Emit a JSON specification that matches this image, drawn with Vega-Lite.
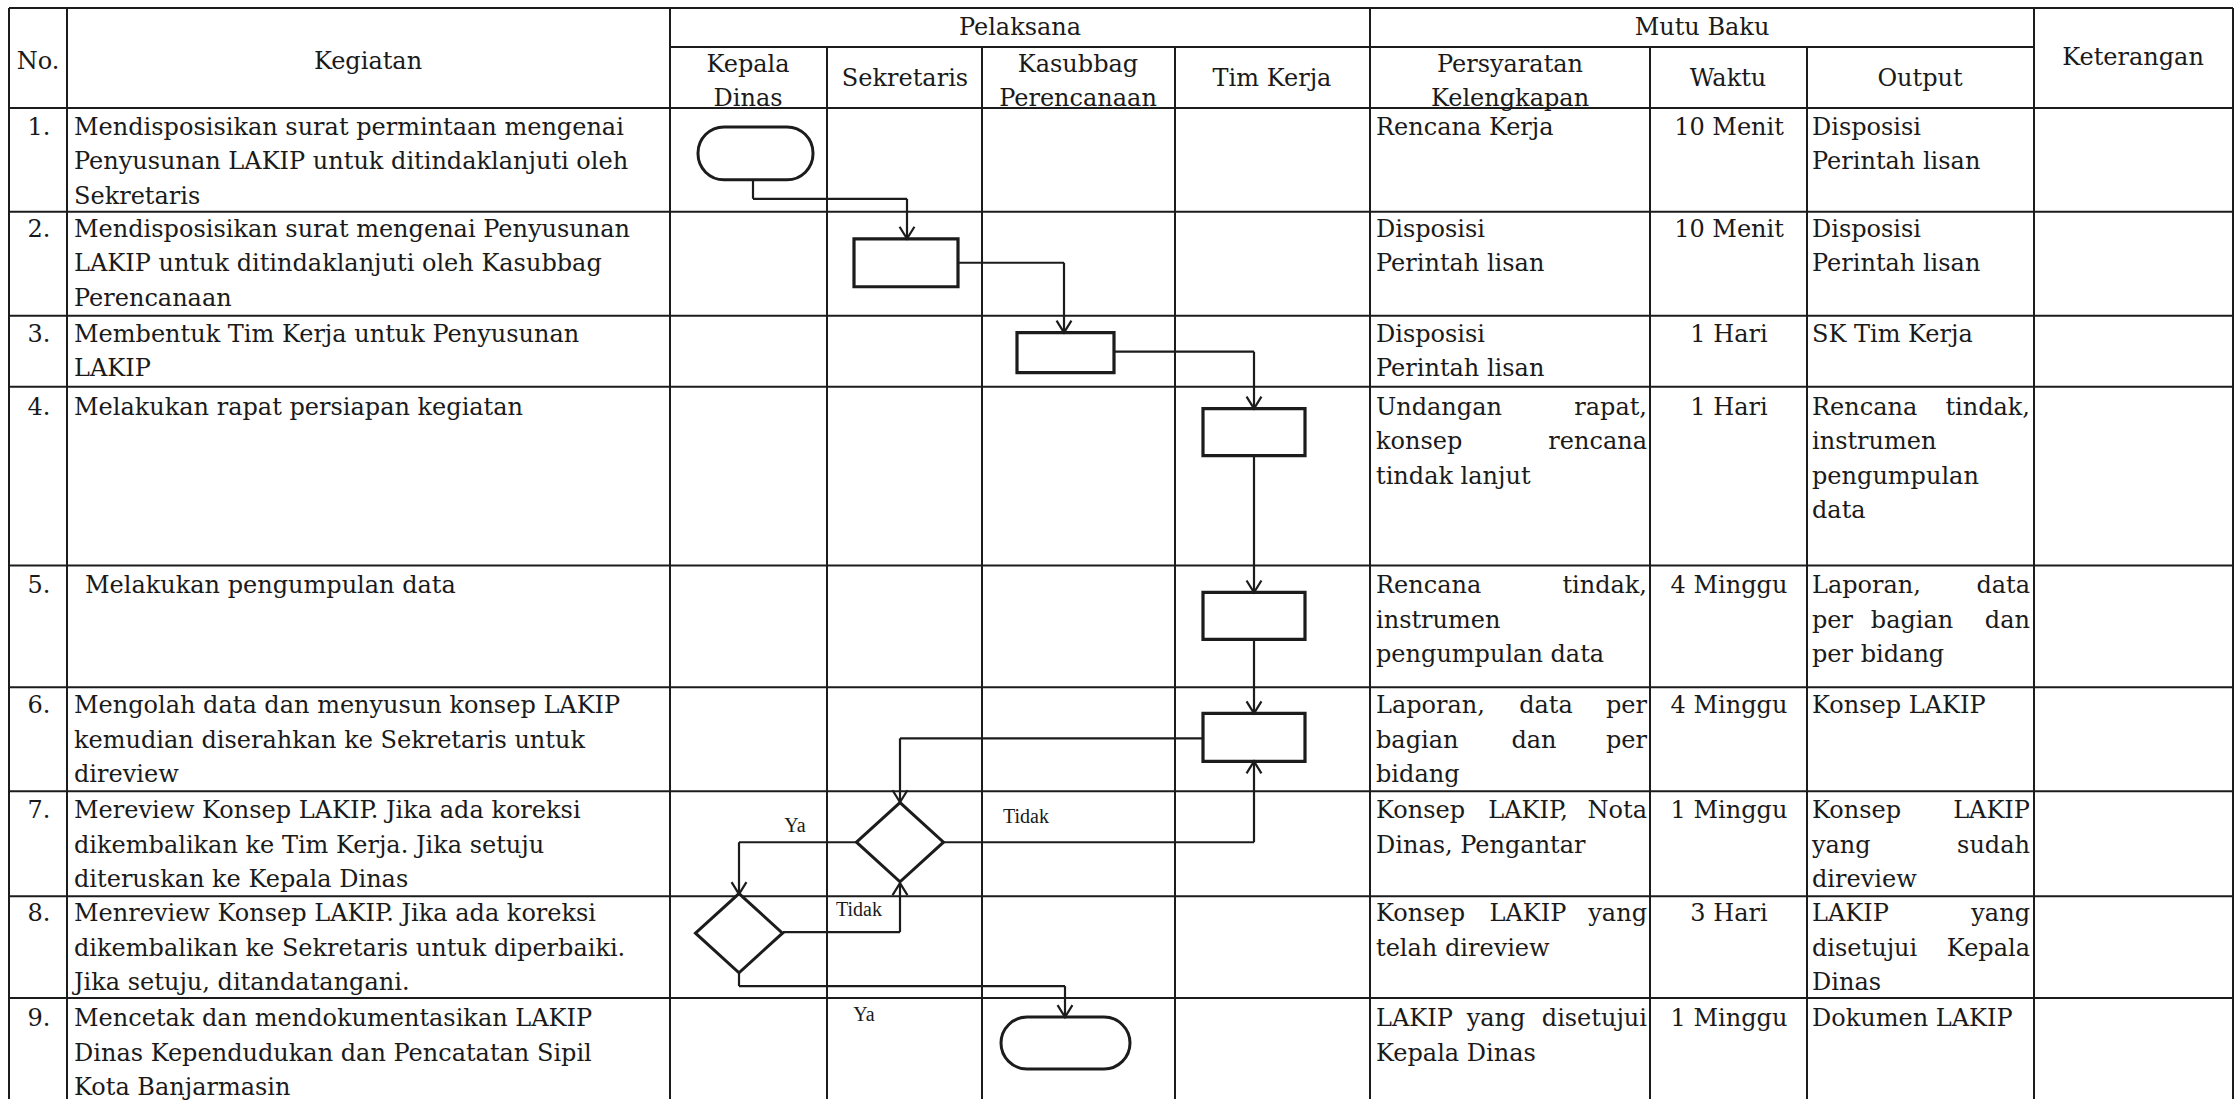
{
  "$schema": "https://vega.github.io/schema/vega-lite/v6.json",
  "width": 2240,
  "height": 1100,
  "autosize": {"type": "fit", "contains": "padding"},
  "padding": 0,
  "background": "white",
  "config": {"view": {"stroke": null}},
  "datasets": {
    "grid": [
      {"x": 9, "y": 8, "x2": 2233, "y2": 8},
      {"x": 670, "y": 47, "x2": 2034, "y2": 47},
      {"x": 9, "y": 108, "x2": 2233, "y2": 108},
      {"x": 9, "y": 212, "x2": 2233, "y2": 212},
      {"x": 9, "y": 316, "x2": 2233, "y2": 316},
      {"x": 9, "y": 387, "x2": 2233, "y2": 387},
      {"x": 9, "y": 566, "x2": 2233, "y2": 566},
      {"x": 9, "y": 688, "x2": 2233, "y2": 688},
      {"x": 9, "y": 792, "x2": 2233, "y2": 792},
      {"x": 9, "y": 897, "x2": 2233, "y2": 897},
      {"x": 9, "y": 999, "x2": 2233, "y2": 999},
      {"x": 9, "y": 8, "x2": 9, "y2": 1100},
      {"x": 67, "y": 8, "x2": 67, "y2": 1100},
      {"x": 670, "y": 8, "x2": 670, "y2": 1100},
      {"x": 827, "y": 47, "x2": 827, "y2": 1100},
      {"x": 982, "y": 47, "x2": 982, "y2": 1100},
      {"x": 1175, "y": 47, "x2": 1175, "y2": 1100},
      {"x": 1370, "y": 8, "x2": 1370, "y2": 1100},
      {"x": 1650, "y": 47, "x2": 1650, "y2": 1100},
      {"x": 1807, "y": 47, "x2": 1807, "y2": 1100},
      {"x": 2034, "y": 8, "x2": 2034, "y2": 1100},
      {"x": 2233, "y": 8, "x2": 2233, "y2": 1100}
    ],
    "conn": [
      {"x": 753, "y": 180, "x2": 753, "y2": 199},
      {"x": 753, "y": 199, "x2": 907, "y2": 199},
      {"x": 907, "y": 199, "x2": 907, "y2": 239},
      {"x": 958, "y": 263, "x2": 1064, "y2": 263},
      {"x": 1064, "y": 263, "x2": 1064, "y2": 333},
      {"x": 1114, "y": 352, "x2": 1254, "y2": 352},
      {"x": 1254, "y": 352, "x2": 1254, "y2": 409},
      {"x": 1254, "y": 456, "x2": 1254, "y2": 593},
      {"x": 1254, "y": 640, "x2": 1254, "y2": 714},
      {"x": 1203, "y": 739, "x2": 900, "y2": 739},
      {"x": 900, "y": 739, "x2": 900, "y2": 803},
      {"x": 943, "y": 843, "x2": 1254, "y2": 843},
      {"x": 1254, "y": 843, "x2": 1254, "y2": 762},
      {"x": 857, "y": 843, "x2": 739, "y2": 843},
      {"x": 739, "y": 843, "x2": 739, "y2": 895},
      {"x": 783, "y": 933, "x2": 900, "y2": 933},
      {"x": 900, "y": 933, "x2": 900, "y2": 884},
      {"x": 739, "y": 972, "x2": 739, "y2": 987},
      {"x": 739, "y": 987, "x2": 1065, "y2": 987},
      {"x": 1065, "y": 987, "x2": 1065, "y2": 1018}
    ],
    "arrows": [
      {"x": 907, "y": 239, "dir": "down"},
      {"x": 1064, "y": 333, "dir": "down"},
      {"x": 1254, "y": 409, "dir": "down"},
      {"x": 1254, "y": 593, "dir": "down"},
      {"x": 1254, "y": 714, "dir": "down"},
      {"x": 900, "y": 803, "dir": "down"},
      {"x": 1254, "y": 762, "dir": "up"},
      {"x": 739, "y": 895, "dir": "down"},
      {"x": 900, "y": 884, "dir": "up"},
      {"x": 1065, "y": 1018, "dir": "down"}
    ],
    "boxes": [
      {"x": 854, "y": 239, "x2": 958, "y2": 287},
      {"x": 1017, "y": 333, "x2": 1114, "y2": 373},
      {"x": 1203, "y": 409, "x2": 1305, "y2": 456},
      {"x": 1203, "y": 593, "x2": 1305, "y2": 640},
      {"x": 1203, "y": 714, "x2": 1305, "y2": 762}
    ],
    "terms": [
      {"x": 698, "y": 127, "x2": 813, "y2": 180},
      {"x": 1001, "y": 1018, "x2": 1130, "y2": 1070}
    ],
    "diamonds": [
      {"x": 900, "y": 843},
      {"x": 739, "y": 934}
    ],
    "tl": [
      {"x": 74, "y": 116, "t": "Mendisposisikan surat permintaan mengenai\nPenyusunan LAKIP untuk ditindaklanjuti oleh\nSekretaris"},
      {"x": 74, "y": 218, "t": "Mendisposisikan surat mengenai Penyusunan\nLAKIP untuk ditindaklanjuti oleh Kasubbag\nPerencanaan"},
      {"x": 74, "y": 323, "t": "Membentuk Tim Kerja untuk Penyusunan\nLAKIP"},
      {"x": 74, "y": 396, "t": "Melakukan rapat persiapan kegiatan"},
      {"x": 85, "y": 575, "t": "Melakukan pengumpulan data"},
      {"x": 74, "y": 695, "t": "Mengolah data dan menyusun konsep LAKIP\nkemudian diserahkan ke Sekretaris untuk\ndireview"},
      {"x": 74, "y": 800, "t": "Mereview Konsep LAKIP. Jika ada koreksi\ndikembalikan ke Tim Kerja. Jika setuju\nditeruskan ke Kepala Dinas"},
      {"x": 74, "y": 903, "t": "Menreview Konsep LAKIP. Jika ada koreksi\ndikembalikan ke Sekretaris untuk diperbaiki.\nJika setuju, ditandatangani."},
      {"x": 74, "y": 1008, "t": "Mencetak dan mendokumentasikan LAKIP\nDinas Kependudukan dan Pencatatan Sipil\nKota Banjarmasin"},
      {"x": 1376, "y": 116, "t": "Rencana Kerja"},
      {"x": 1376, "y": 218, "t": "Disposisi\nPerintah lisan"},
      {"x": 1376, "y": 323, "t": "Disposisi\nPerintah lisan"},
      {"x": 1376, "y": 396, "t": "Undangan"},
      {"x": 1376, "y": 430.5, "t": "konsep"},
      {"x": 1376, "y": 465, "t": "tindak lanjut"},
      {"x": 1376, "y": 575, "t": "Rencana"},
      {"x": 1376, "y": 609.5, "t": "instrumen\npengumpulan data"},
      {"x": 1376, "y": 695, "t": "Laporan,"},
      {"x": 1376, "y": 729.5, "t": "bagian"},
      {"x": 1376, "y": 764, "t": "bidang"},
      {"x": 1376, "y": 800, "t": "Konsep"},
      {"x": 1376, "y": 834.5, "t": "Dinas, Pengantar"},
      {"x": 1376, "y": 903, "t": "Konsep"},
      {"x": 1376, "y": 937.5, "t": "telah direview"},
      {"x": 1376, "y": 1008, "t": "LAKIP"},
      {"x": 1376, "y": 1042.5, "t": "Kepala Dinas"},
      {"x": 1812, "y": 116, "t": "Disposisi\nPerintah lisan"},
      {"x": 1812, "y": 218, "t": "Disposisi\nPerintah lisan"},
      {"x": 1812, "y": 323, "t": "SK Tim Kerja"},
      {"x": 1812, "y": 396, "t": "Rencana"},
      {"x": 1812, "y": 430.5, "t": "instrumen\npengumpulan\ndata"},
      {"x": 1812, "y": 575, "t": "Laporan,"},
      {"x": 1812, "y": 609.5, "t": "per"},
      {"x": 1812, "y": 644, "t": "per bidang"},
      {"x": 1812, "y": 695, "t": "Konsep LAKIP"},
      {"x": 1812, "y": 800, "t": "Konsep"},
      {"x": 1812, "y": 834.5, "t": "yang"},
      {"x": 1812, "y": 869, "t": "direview"},
      {"x": 1812, "y": 903, "t": "LAKIP"},
      {"x": 1812, "y": 937.5, "t": "disetujui"},
      {"x": 1812, "y": 972, "t": "Dinas"},
      {"x": 1812, "y": 1008, "t": "Dokumen LAKIP"}
    ],
    "tr": [
      {"x": 1647, "y": 396, "t": "rapat,"},
      {"x": 1647, "y": 430.5, "t": "rencana"},
      {"x": 1647, "y": 575, "t": "tindak,"},
      {"x": 1647, "y": 695, "t": "per"},
      {"x": 1647, "y": 729.5, "t": "per"},
      {"x": 1647, "y": 800, "t": "Nota"},
      {"x": 1647, "y": 903, "t": "yang"},
      {"x": 1647, "y": 1008, "t": "disetujui"},
      {"x": 2030, "y": 396, "t": "tindak,"},
      {"x": 2030, "y": 575, "t": "data"},
      {"x": 2030, "y": 609.5, "t": "dan"},
      {"x": 2030, "y": 800, "t": "LAKIP"},
      {"x": 2030, "y": 834.5, "t": "sudah"},
      {"x": 2030, "y": 903, "t": "yang"},
      {"x": 2030, "y": 937.5, "t": "Kepala"}
    ],
    "tc": [
      {"x": 38, "y": 50, "t": "No."},
      {"x": 368, "y": 50, "t": "Kegiatan"},
      {"x": 1020, "y": 16, "t": "Pelaksana"},
      {"x": 748, "y": 53, "t": "Kepala\nDinas"},
      {"x": 905, "y": 67, "t": "Sekretaris"},
      {"x": 1078, "y": 53, "t": "Kasubbag\nPerencanaan"},
      {"x": 1272, "y": 67, "t": "Tim Kerja"},
      {"x": 1702, "y": 16, "t": "Mutu Baku"},
      {"x": 1510, "y": 53, "t": "Persyaratan\nKelengkapan"},
      {"x": 1728, "y": 67, "t": "Waktu"},
      {"x": 1920, "y": 67, "t": "Output"},
      {"x": 2133, "y": 46, "t": "Keterangan"},
      {"x": 39, "y": 116, "t": "1."},
      {"x": 39, "y": 218, "t": "2."},
      {"x": 39, "y": 323, "t": "3."},
      {"x": 39, "y": 396, "t": "4."},
      {"x": 39, "y": 575, "t": "5."},
      {"x": 39, "y": 695, "t": "6."},
      {"x": 39, "y": 800, "t": "7."},
      {"x": 39, "y": 903, "t": "8."},
      {"x": 39, "y": 1008, "t": "9."},
      {"x": 1729, "y": 116, "t": "10 Menit"},
      {"x": 1729, "y": 218, "t": "10 Menit"},
      {"x": 1729, "y": 323, "t": "1 Hari"},
      {"x": 1729, "y": 396, "t": "1 Hari"},
      {"x": 1729, "y": 575, "t": "4 Minggu"},
      {"x": 1729, "y": 695, "t": "4 Minggu"},
      {"x": 1729, "y": 800, "t": "1 Minggu"},
      {"x": 1729, "y": 903, "t": "3 Hari"},
      {"x": 1729, "y": 1008, "t": "1 Minggu"},
      {"x": 1546, "y": 695, "t": "data"},
      {"x": 1534, "y": 729.5, "t": "dan"},
      {"x": 1528, "y": 800, "t": "LAKIP,"},
      {"x": 1528, "y": 903, "t": "LAKIP"},
      {"x": 1496, "y": 1008, "t": "yang"},
      {"x": 1912, "y": 609.5, "t": "bagian"}
    ],
    "lbl": [
      {"x": 795, "y": 827, "t": "Ya"},
      {"x": 1026, "y": 818, "t": "Tidak"},
      {"x": 859, "y": 911, "t": "Tidak"},
      {"x": 864, "y": 1016, "t": "Ya"}
    ]
  },
  "encoding": {
    "x": {"field": "x", "type": "quantitative", "axis": null, "scale": {"domain": [0, 2240], "nice": false, "zero": false}},
    "y": {"field": "y", "type": "quantitative", "axis": null, "scale": {"domain": [0, 1100], "nice": false, "zero": false, "reverse": true}}
  },
  "layer": [
    {
      "data": {"name": "grid"},
      "mark": {"type": "rule", "stroke": "#1c1c1c", "strokeWidth": 2},
      "encoding": {"x2": {"field": "x2"}, "y2": {"field": "y2"}}
    },
    {
      "data": {"name": "conn"},
      "mark": {"type": "rule", "stroke": "#1c1c1c", "strokeWidth": 2.2},
      "encoding": {"x2": {"field": "x2"}, "y2": {"field": "y2"}}
    },
    {
      "data": {"name": "boxes"},
      "mark": {"type": "rect", "fill": "white", "stroke": "#1c1c1c", "strokeWidth": 3.2},
      "encoding": {"x2": {"field": "x2"}, "y2": {"field": "y2"}}
    },
    {
      "data": {"name": "terms"},
      "mark": {"type": "rect", "fill": "white", "stroke": "#1c1c1c", "strokeWidth": 3, "cornerRadius": 26},
      "encoding": {"x2": {"field": "x2"}, "y2": {"field": "y2"}}
    },
    {
      "data": {"name": "diamonds"},
      "mark": {"type": "point", "filled": false, "fill": "white", "fillOpacity": 1, "stroke": "#1c1c1c", "strokeWidth": 3, "opacity": 1, "size": 7569, "shape": "M-1,0L0,-0.91L1,0L0,0.91Z"}
    },
    {
      "data": {"name": "arrows"},
      "transform": [{"filter": "datum.dir === 'down'"}],
      "mark": {"type": "point", "filled": false, "stroke": "#1c1c1c", "strokeWidth": 2.2, "opacity": 1, "size": 576, "shape": "M-0.62,-1L0,0L0.62,-1"}
    },
    {
      "data": {"name": "arrows"},
      "transform": [{"filter": "datum.dir === 'up'"}],
      "mark": {"type": "point", "filled": false, "stroke": "#1c1c1c", "strokeWidth": 2.2, "opacity": 1, "size": 576, "shape": "M-0.62,1L0,0L0.62,1"}
    },
    {
      "data": {"name": "tl"},
      "mark": {"type": "text", "align": "left", "baseline": "top", "font": "DejaVu Serif", "fontSize": 24, "lineBreak": "\n", "lineHeight": 34.5, "color": "#1a1a1a"},
      "encoding": {"text": {"field": "t", "type": "nominal"}}
    },
    {
      "data": {"name": "tr"},
      "mark": {"type": "text", "align": "right", "baseline": "top", "font": "DejaVu Serif", "fontSize": 24, "lineBreak": "\n", "lineHeight": 34.5, "color": "#1a1a1a"},
      "encoding": {"text": {"field": "t", "type": "nominal"}}
    },
    {
      "data": {"name": "tc"},
      "mark": {"type": "text", "align": "center", "baseline": "top", "font": "DejaVu Serif", "fontSize": 24, "lineBreak": "\n", "lineHeight": 34.5, "color": "#1a1a1a"},
      "encoding": {"text": {"field": "t", "type": "nominal"}}
    },
    {
      "data": {"name": "lbl"},
      "mark": {"type": "text", "align": "center", "baseline": "middle", "font": "Liberation Serif", "fontSize": 20, "color": "#1a1a1a"},
      "encoding": {"text": {"field": "t", "type": "nominal"}}
    }
  ]
}
